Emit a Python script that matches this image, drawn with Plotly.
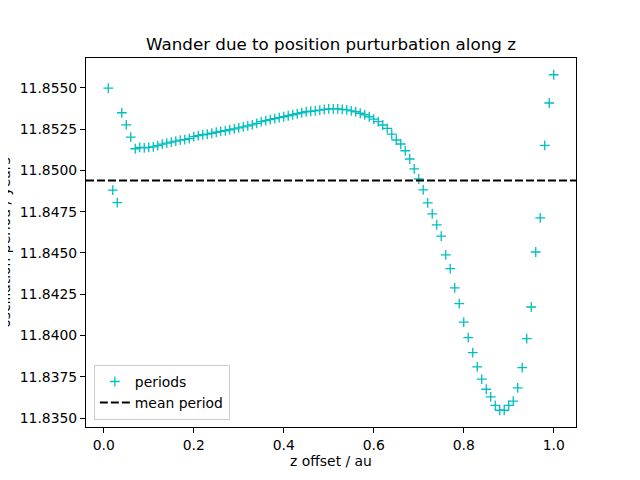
import numpy as np
import plotly.graph_objects as go

# z offsets (au) and measured oscillation periods (years)
z_offset = [round(0.01 * i, 2) for i in range(1, 101)]
periods = [
    11.85498, 11.84880, 11.84805, 11.85349, 11.85276, 11.85202, 11.85131, 11.85140, 11.85137, 11.85140,
    11.85143, 11.85150, 11.85159, 11.85165, 11.85171, 11.85177, 11.85183, 11.85186, 11.85192, 11.85204,
    11.85210, 11.85216, 11.85220, 11.85225, 11.85231, 11.85236, 11.85240, 11.85246, 11.85252, 11.85258,
    11.85264, 11.85270, 11.85276, 11.85285, 11.85295, 11.85301, 11.85307, 11.85313, 11.85319, 11.85325,
    11.85331, 11.85337, 11.85343, 11.85349, 11.85355, 11.85358, 11.85361, 11.85365, 11.85369, 11.85373,
    11.85373, 11.85373, 11.85370, 11.85367, 11.85361, 11.85355, 11.85346, 11.85337, 11.85325, 11.85310,
    11.85295, 11.85275, 11.85254, 11.85220, 11.85184, 11.85160, 11.85119, 11.85069, 11.85009, 11.84948,
    11.84882, 11.84803, 11.84737, 11.84670, 11.84602, 11.84489, 11.84405, 11.84289, 11.84193, 11.84082,
    11.83988, 11.83897, 11.83810, 11.83736, 11.83675, 11.83629, 11.83577, 11.83548, 11.83548, 11.83577,
    11.83603, 11.83683, 11.83806, 11.83982, 11.84173, 11.84506, 11.84713, 11.85151, 11.85408, 11.85579,
]

x_ticks = [0.0, 0.2, 0.4, 0.6, 0.8, 1.0]
y_ticks = [11.8350, 11.8375, 11.8400, 11.8425, 11.8450, 11.8475, 11.8500, 11.8525, 11.8550]

mean_period = float(np.mean(periods))

# matplotlib-like 5% padding
xpad = 0.05 * (max(z_offset) - min(z_offset))
ypad = 0.05 * (max(periods) - min(periods))
xr = [min(z_offset) - xpad, max(z_offset) + xpad]
yr = [min(periods) - ypad, max(periods) + ypad]

font = dict(family="DejaVu Sans", size=13.9, color="black")

fig = go.Figure()
fig.add_trace(go.Scatter(x=z_offset, y=periods,
                         mode="markers",
                         name="periods",
                         marker=dict(symbol="cross-thin", size=7, color="#00bfbf",
                                     line=dict(color="#00bfbf", width=1.3))))

fig.add_shape(type="line", xref="paper", x0=0, x1=1, yref="y", y0=mean_period, y1=mean_period,
              line=dict(color="black", width=2, dash="8px,3px"),
              showlegend=True, name="mean period")

fig.update_xaxes(range=xr, tickvals=x_ticks, ticktext=["%.1f" % t for t in x_ticks],
                 showline=True, mirror=True, linecolor="black", linewidth=1,
                 ticks="outside", ticklen=5, tickwidth=1, tickcolor="black",
                 showgrid=False, zeroline=False,
                 title=dict(text="z offset / au", font=font, standoff=1))
fig.update_yaxes(range=yr, tickvals=y_ticks, ticktext=["%.4f" % t for t in y_ticks],
                 showline=True, mirror=True, linecolor="black", linewidth=1,
                 ticks="outside", ticklen=5, tickwidth=1, tickcolor="black",
                 showgrid=False, zeroline=False)

# y label sits partly off the left edge, as in the original
fig.add_annotation(text="oscillation period / years", textangle=-90,
                   xref="paper", yref="paper", x=-0.167, y=0.5,
                   xanchor="center", yanchor="middle", showarrow=False, font=font)

# page has an 8px body margin, so the figure is a little smaller than the window
fig.update_layout(width=632, height=472,
                  margin=dict(l=72, r=64, t=50, b=53, pad=0),
                  paper_bgcolor="white", plot_bgcolor="white",
                  font=font,
                  title=dict(text="Wander due to position purturbation along z",
                             x=0.5, xref="paper", y=1 - 36 / 472, yref="container",
                             xanchor="center", yanchor="middle",
                             font=dict(family="DejaVu Sans", size=16.7, color="black")),
                  legend=dict(x=0.016, y=0.019, xanchor="left", yanchor="bottom",
                              bgcolor="rgba(255,255,255,0.8)", bordercolor="#cccccc",
                              borderwidth=1, font=font, tracegroupgap=0))

fig.write_html("out.html")
